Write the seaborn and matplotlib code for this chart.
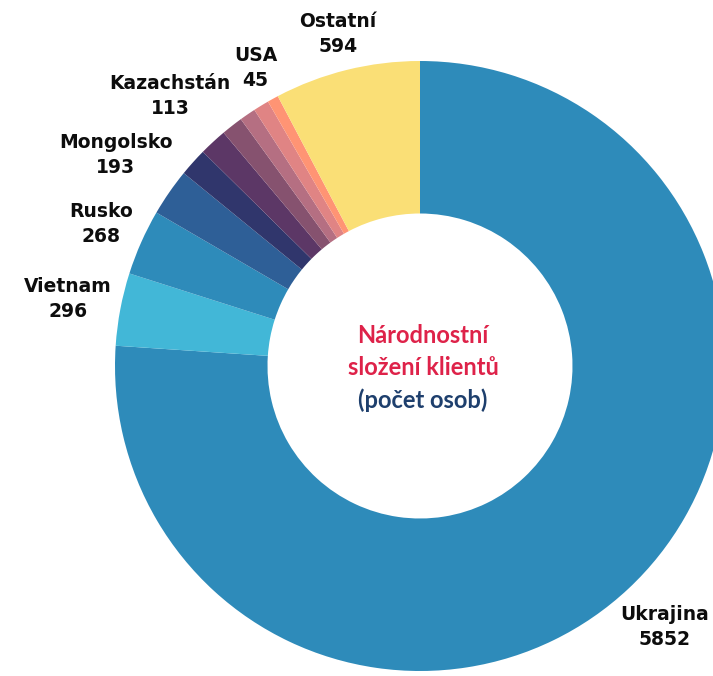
import numpy as np
import matplotlib
matplotlib.use("Agg")
import matplotlib.pyplot as plt
import seaborn as sns

categories = ["Ukrajina", "Vietnam", "Rusko", "Mongolsko", "Slovensko", "Kazachstán",
              "Bělorusko", "Moldavsko", "Indie", "USA", "Ostatní"]
values = [5852, 296, 268, 193, 115, 113, 88, 66, 64, 45, 594]
shown = [True, True, True, True, False, True, False, False, False, True, True]
colors = ["#2E8BBA", "#42B7D7", "#2E8BBA", "#2E5F97", "#30366C", "#5C3766",
          "#86526F", "#B56F82", "#E08484", "#FF9474", "#FADF76"]

title_lines = ["Národnostní", "složení klientů", "(počet osob)"]
title_colors = ["#DE2249", "#DE2249", "#1E3F6D"]

sns.set_theme(style="white")
plt.rcParams['font.family'] = ['DejaVu Sans']

W, H = 713, 676
R_PX = 305.0
CX, CY = 420.0, 366.0  # centre in pixels from top-left

fig = plt.figure(figsize=(W / 100, H / 100), dpi=100)
ax = fig.add_axes([0, 0, 1, 1])

palette = sns.color_palette(colors)
wedges, _ = ax.pie(values, colors=palette, startangle=90, counterclock=False,
                   radius=1.0, wedgeprops=dict(width=0.5, linewidth=0))
ax.set_xlim(-CX / R_PX, (W - CX) / R_PX)
ax.set_ylim(-(H - CY) / R_PX, CY / R_PX)
ax.set_aspect("equal")
ax.axis("off")

fig.canvas.draw()
renderer = fig.canvas.get_renderer()
offset_px = 6.0
for w, name, val, show in zip(wedges, categories, values, shown):
    if not show:
        continue
    theta = np.deg2rad((w.theta1 + w.theta2) / 2.0)
    t = ax.text(0, 0, f"{name}\n{val}", ha="center", va="center",
                fontsize=13.5, fontweight="bold", color="#0d0d0d",
                linespacing=1.4, multialignment="center")
    bb = t.get_window_extent(renderer=renderer)
    ext = abs(np.cos(theta)) * bb.width / 2 + abs(np.sin(theta)) * bb.height / 2
    d = (R_PX + offset_px + ext) / R_PX
    t.set_position((d * np.cos(theta), d * np.sin(theta)))

offsets_px = [30, -2, -34]
for line, col, off in zip(title_lines, title_colors, offsets_px):
    ax.annotate(line, xy=(0, 0), xytext=(3, off), textcoords="offset pixels",
                ha="center", va="center", fontsize=17, fontweight="bold", color=col,
                family=['Lato', 'DejaVu Sans'])

fig.savefig("out.png", dpi=100)
